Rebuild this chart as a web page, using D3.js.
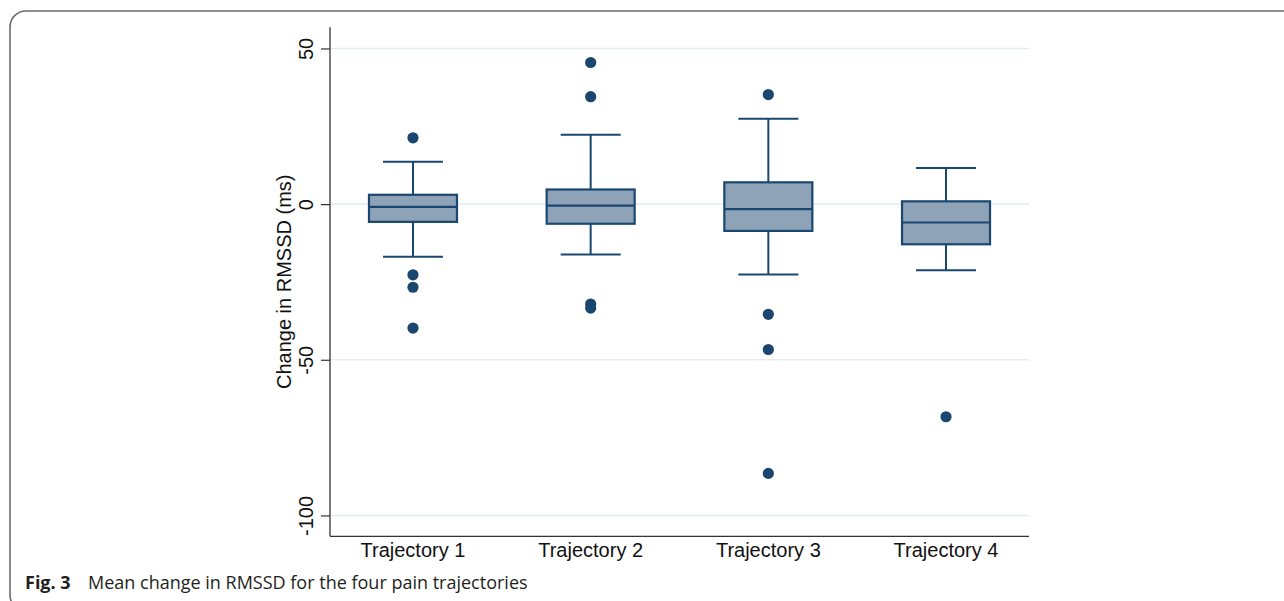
<!DOCTYPE html>
<html>
<head>
<meta charset="utf-8">
<script src="https://cdn.jsdelivr.net/npm/d3@7"></script>
<style>
  html, body { margin: 0; padding: 0; background: #fff; }
  svg { display: block; }
</style>
</head>
<body>
<svg id="chart" width="1284" height="601"></svg>
<script>
// ---- Data ----
const categories = ["Trajectory 1", "Trajectory 2", "Trajectory 3", "Trajectory 4"];
const whiskerHigh = [13.6, 22.3, 27.4, 11.6];
const q3 = [3.0, 4.7, 7.0, 0.9];
const medians = [-0.9, -0.5, -1.6, -5.9];
const q1 = [-5.7, -6.3, -8.6, -12.9];
const whiskerLow = [-16.9, -16.2, -22.6, -21.2];
const outliers = [
  [21.3, -22.7, -26.7, -39.8],
  [45.5, 34.5, -32.1, -33.4],
  [35.2, -35.4, -46.7, -86.5],
  [-68.3]
];
const yTicks = [50, 0, -50, -100];
const yTitle = "Change in RMSSD (ms)";
const captionBold = "Fig. 3";
const captionText = "Mean change in RMSSD for the four pain trajectories";

// ---- Layout ----
const svg = d3.select("#chart");
const plotL = 330, plotR = 1029, plotT = 27.3, plotB = 536.3;
const navy = "#1a476f";
const boxFill = "#8ea3b8";

const y = d3.scaleLinear().domain([-106.7, 56.8]).range([plotB, plotT]);
const x = d3.scalePoint().domain(categories).range([plotL, plotR]).padding(0.467);

// Frame around figure
svg.append("rect")
  .attr("x", 10).attr("y", 11)
  .attr("width", 1310).attr("height", 600)
  .attr("rx", 16).attr("ry", 16)
  .attr("fill", "none").attr("stroke", "#6b6b6b").attr("stroke-width", 1.6);

// Gridlines
svg.append("g").selectAll("line").data(yTicks).join("line")
  .attr("x1", plotL).attr("x2", plotR)
  .attr("y1", d => y(d)).attr("y2", d => y(d))
  .attr("stroke", "#e4eef0").attr("stroke-width", 1.6);

// Y axis
const yAxis = d3.axisLeft(y).tickValues(yTicks).tickSize(9).tickFormat(d => String(d));
const gy = svg.append("g").attr("transform", `translate(${plotL},0)`).call(yAxis);
gy.select(".domain").remove();
gy.selectAll(".tick line").attr("stroke", "#333").attr("stroke-width", 1.2);
gy.selectAll(".tick text")
  .attr("x", 0).attr("dy", null).attr("y", 0)
  .attr("transform", "translate(-17,0) rotate(-90)")
  .attr("text-anchor", "middle")
  .attr("fill", "#111")
  .style("font-family", "'Liberation Sans', Arial, sans-serif")
  .style("font-size", "20px");

// Axis lines
svg.append("line").attr("x1", plotL).attr("x2", plotL).attr("y1", plotT).attr("y2", plotB)
  .attr("stroke", "#333").attr("stroke-width", 1.3);
svg.append("line").attr("x1", plotL).attr("x2", plotR).attr("y1", plotB).attr("y2", plotB)
  .attr("stroke", "#333").attr("stroke-width", 1.3);

// X labels
svg.append("g").selectAll("text").data(categories).join("text")
  .attr("x", d => x(d)).attr("y", 557)
  .attr("text-anchor", "middle")
  .attr("fill", "#111")
  .style("font-family", "'Liberation Sans', Arial, sans-serif")
  .style("font-size", "20px")
  .text(d => d);

// Y title
svg.append("text")
  .attr("transform", `translate(291,${(plotT + plotB) / 2}) rotate(-90)`)
  .attr("text-anchor", "middle")
  .attr("fill", "#111")
  .style("font-family", "'Liberation Sans', Arial, sans-serif")
  .style("font-size", "20px")
  .text(yTitle);

// Boxes
const boxW = 88, capW = 60;
const g = svg.append("g").selectAll("g").data(categories).join("g");
g.each(function(c, i) {
  const s = d3.select(this);
  const cx = x(c);
  s.append("line").attr("x1", cx).attr("x2", cx).attr("y1", y(q3[i])).attr("y2", y(whiskerHigh[i]))
    .attr("stroke", navy).attr("stroke-width", 2);
  s.append("line").attr("x1", cx).attr("x2", cx).attr("y1", y(q1[i])).attr("y2", y(whiskerLow[i]))
    .attr("stroke", navy).attr("stroke-width", 2);
  s.append("line").attr("x1", cx - capW / 2).attr("x2", cx + capW / 2)
    .attr("y1", y(whiskerHigh[i])).attr("y2", y(whiskerHigh[i]))
    .attr("stroke", navy).attr("stroke-width", 2);
  s.append("line").attr("x1", cx - capW / 2).attr("x2", cx + capW / 2)
    .attr("y1", y(whiskerLow[i])).attr("y2", y(whiskerLow[i]))
    .attr("stroke", navy).attr("stroke-width", 2);
  s.append("rect").attr("x", cx - boxW / 2).attr("width", boxW)
    .attr("y", y(q3[i])).attr("height", y(q1[i]) - y(q3[i]))
    .attr("fill", boxFill).attr("stroke", navy).attr("stroke-width", 2.2);
  s.append("line").attr("x1", cx - boxW / 2).attr("x2", cx + boxW / 2)
    .attr("y1", y(medians[i])).attr("y2", y(medians[i]))
    .attr("stroke", navy).attr("stroke-width", 2.2);
  s.selectAll("circle").data(outliers[i]).join("circle")
    .attr("cx", cx).attr("cy", d => y(d)).attr("r", 5.6)
    .attr("fill", navy);
});

// Caption
const cap = svg.append("text")
  .attr("x", 25).attr("y", 589)
  .attr("fill", "#231f20")
  .style("font-family", "'Open Sans', 'Noto Sans', sans-serif")
  .style("font-size", "18px");
cap.append("tspan").style("font-weight", "bold").text(captionBold);
cap.append("tspan").attr("x", 88).text(captionText);
</script>
</body>
</html>
